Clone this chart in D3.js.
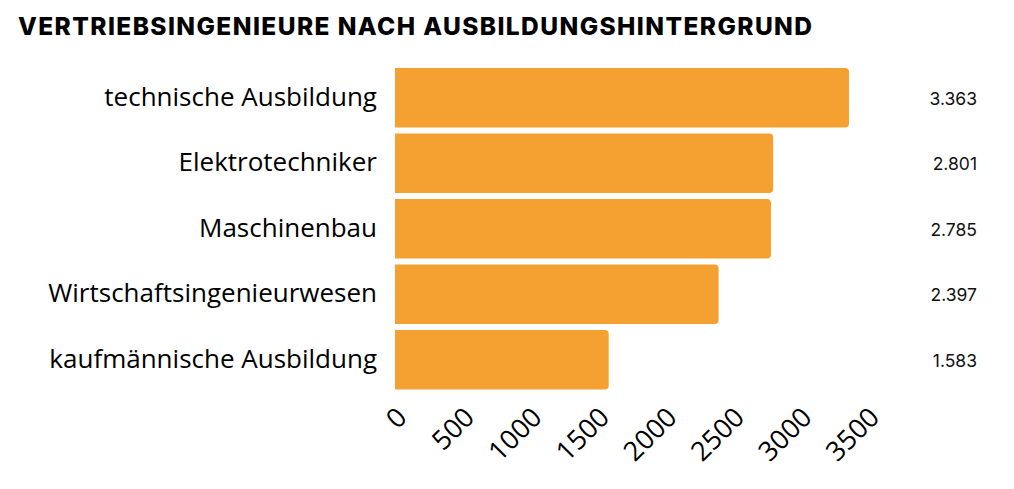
<!DOCTYPE html>
<html><head><meta charset="utf-8">
<script src="https://cdn.jsdelivr.net/npm/d3@7"></script>
<style>body{margin:0;background:#fff;} svg{display:block;}</style>
</head><body>
<svg id="chart" width="1014" height="489"></svg>
<script>
const categories = ["technische Ausbildung","Elektrotechniker","Maschinenbau","Wirtschaftsingenieurwesen","kaufmännische Ausbildung"];
const values = [3363, 2801, 2785, 2397, 1583];
const valueLabels = ["3.363","2.801","2.785","2.397","1.583"];
const tickValues = [0,500,1000,1500,2000,2500,3000,3500];
const title = "VERTRIEBSINGENIEURE NACH AUSBILDUNGSHINTERGRUND";

const svg = d3.select("#chart");
const x = d3.scaleLinear().domain([0,3500]).range([395, 867.5]);
const y = d3.scaleBand().domain(categories).range([62, 395.5]).paddingInner(0.09).paddingOuter(0.09);
const r = 4;

svg.append("text").attr("x",18).attr("y",35)
  .attr("font-family","Inter, sans-serif").attr("font-weight",800)
  .attr("font-size",24.5).attr("fill","#000")
  .attr("textLength",794).attr("lengthAdjust","spacing").text(title);

const g = svg.append("g");
categories.forEach((c,i)=>{
  const x0 = x(0), x1 = x(values[i]), y0 = y(c), h = y.bandwidth();
  const p = `M${x0},${y0} H${x1-r} Q${x1},${y0} ${x1},${y0+r} V${y0+h-r} Q${x1},${y0+h} ${x1-r},${y0+h} H${x0} Z`;
  g.append("path").attr("d",p).attr("fill","#F4A131");
});

svg.append("g").selectAll("text").data(categories).join("text")
  .attr("x",377).attr("y",d=>y(d)+y.bandwidth()/2 - 1).attr("dy","0.35em")
  .attr("text-anchor","end").attr("font-family","'Open Sans', sans-serif")
  .attr("font-size",26).attr("fill","#000").text(d=>d);

svg.append("g").selectAll("text").data(valueLabels).join("text")
  .attr("x",977).attr("y",(d,i)=>y(categories[i])+y.bandwidth()/2 + 1).attr("dy","0.35em")
  .attr("text-anchor","end").attr("font-family","Inter, sans-serif")
  .attr("font-size",17.5).attr("fill","#111").text(d=>d);

const axis = svg.append("g").attr("transform","translate(0,400)")
  .call(d3.axisBottom(x).tickValues(tickValues).tickSize(0).tickFormat(d3.format("d")));
axis.select(".domain").remove();
axis.selectAll("text")
  .attr("font-family","'Open Sans', sans-serif").attr("font-size",27).attr("fill","#000")
  .attr("text-anchor","end").attr("dy",0).attr("y",0)
  .attr("transform","translate(13,19) rotate(-45)");
</script>
</body></html>
